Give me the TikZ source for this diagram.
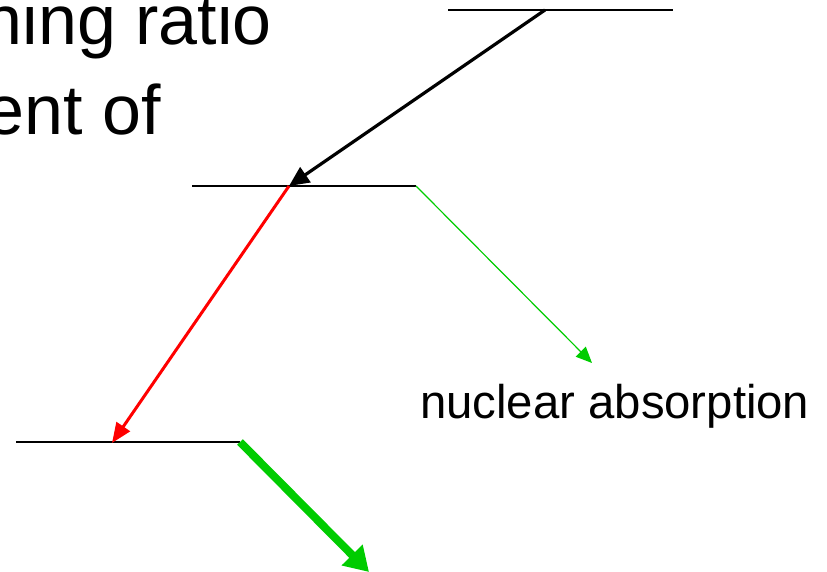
\documentclass[tikz,border=0pt]{standalone}
\usepackage{fontspec}
\setmainfont{Liberation Sans}
\usetikzlibrary{arrows.meta}
\definecolor{grn}{RGB}{0,204,0}
\tikzset{
  level/.style={draw=black, line width=2.2pt},
  blackarr/.style={draw=black, line width=3.2pt, -{Triangle[length=20pt,width=18pt]}},
  redarr/.style={draw=red, line width=3pt, -{Triangle[length=20pt,width=16pt]}},
  thinarr/.style={draw=grn, line width=1.2pt, -{Triangle[length=16pt,width=14pt]}},
  thickarr/.style={draw=grn, line width=8pt, -{Triangle[length=24pt,width=28pt]}},
  bigtxt/.style={font=\fontsize{70}{84}\selectfont, inner sep=0pt, anchor=base east},
  lbl/.style={font=\fontsize{47.3}{56}\selectfont, inner sep=0pt, anchor=base west}
}
\begin{document}
\begin{tikzpicture}[x=1pt,y=-1pt]
\useasboundingbox (0,0) rectangle (827,572);
\clip (0,0) rectangle (827,572);
\node[bigtxt] (t1) at (272,45) {branching ratio};
\node[bigtxt] (t2) at (161,135) {measurement of};
\coordinate (a1) at (448,10);
\coordinate (a2) at (673,10);
\coordinate (as) at (545,10);
\coordinate (m1) at (192,186);
\coordinate (m2) at (416,186);
\coordinate (ms) at (289,186);
\coordinate (b1) at (16,442);
\coordinate (b2) at (240,442);
\coordinate (rt) at (112,443);
\coordinate (gt) at (592,363);
\coordinate (ft) at (369,572);
\draw[level] (a1) -- (a2);
\draw[level] (m1) -- (m2);
\draw[level] (b1) -- (b2);
\draw[blackarr] (as) -- (ms);
\draw[redarr] (ms) -- (rt);
\draw[thinarr] (m2) -- (gt);
\draw[thickarr] (b2) -- (ft);
\node[lbl] (na) at (420,418) {nuclear absorption};
\end{tikzpicture}
\end{document}
